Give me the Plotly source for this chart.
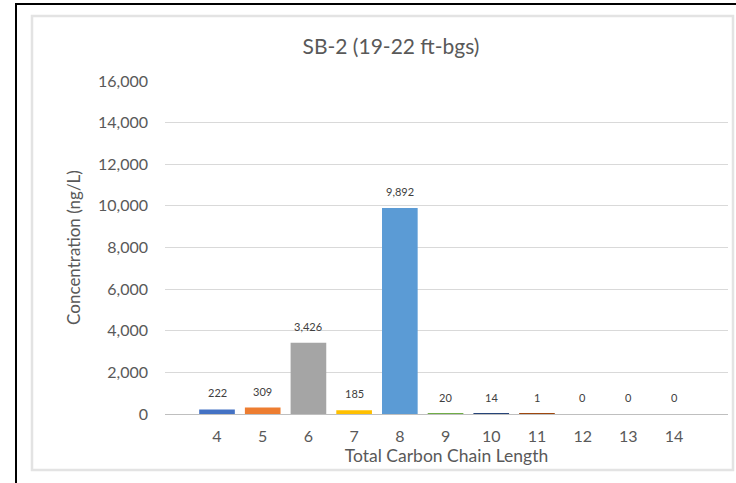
import plotly.graph_objects as go

# Concentration by total carbon chain length, sample SB-2 (19-22 ft-bgs)
chain_length = [4, 5, 6, 7, 8, 9, 10, 11, 12, 13, 14]
concentration = [222, 309, 3426, 185, 9892, 20, 14, 1, 0, 0, 0]
bar_colors = ["#4472C4", "#ED7D31", "#A5A5A5", "#FFC000", "#5B9BD5", "#70AD47",
              "#264478", "#9E480E", "#636363", "#997300", "#255E91"]
y_ticks = [0, 2000, 4000, 6000, 8000, 10000, 12000, 14000, 16000]

W, H = 736, 483
L, R, T, B = 165, 8, 81, 69
pw, ph = W - L - R, H - T - B


def px_x(p):
    return (p - L) / pw


def px_y(p):
    return (H - B - p) / ph


FONT = "Lato, Open Sans, sans-serif"
GREY = "#595959"

fig = go.Figure()
fig.add_trace(go.Bar(
    x=chain_length, y=concentration, width=0.78,
    marker=dict(color=bar_colors, line=dict(width=0)),
    hoverinfo="x+y",
))

for xv, yv in zip(chain_length, concentration):
    fig.add_annotation(x=xv, y=yv, text=f"{yv:,}", showarrow=False,
                       yanchor="bottom", yshift=8,
                       font=dict(family=FONT, size=11, color="#404040"))

fig.update_layout(
    width=W, height=H,
    margin=dict(l=L, r=R, t=T, b=B),
    paper_bgcolor="white", plot_bgcolor="white",
    showlegend=False,
    title=dict(text="SB-2 (19-22 ft-bgs)", x=px_x(391), xref="paper", xanchor="center",
               y=1 - 47 / H, yanchor="middle",
               font=dict(family=FONT, size=21, color=GREY)),
    font=dict(family=FONT, color=GREY),
)

fig.update_xaxes(
    range=[2.862, 15.18], tickmode="array", tickvals=chain_length,
    ticktext=[str(c) for c in chain_length], showgrid=False, zeroline=False,
    showline=True, linecolor="#BFBFBF", linewidth=1, ticks="",
    ticklabelstandoff=8,
    tickfont=dict(family=FONT, size=16, color=GREY),
    title=dict(text="Total Carbon Chain Length", standoff=3,
               font=dict(family=FONT, size=17.5, color=GREY)),
)
fig.update_yaxes(
    range=[0, 16000], tickvals=y_ticks, tickformat=",d",
    showgrid=True, gridcolor="#D9D9D9", gridwidth=1, zeroline=False,
    showline=False, ticks="", ticklabelstandoff=16,
    tickfont=dict(family=FONT, size=16, color=GREY),
    title=dict(text="Concentration (ng/L)", standoff=13,
               font=dict(family=FONT, size=17, color=GREY)),
)

# outer black frame and inner chart-area border
fig.add_shape(type="rect", xref="paper", yref="paper",
              x0=px_x(16), x1=px_x(760), y0=px_y(500), y1=px_y(4),
              line=dict(color="black", width=2), layer="above")
fig.add_shape(type="rect", xref="paper", yref="paper",
              x0=px_x(32), x1=px_x(733), y0=px_y(470), y1=px_y(16),
              line=dict(color="#E3E3E3", width=2.5), layer="above")

fig.write_html("out.html")
